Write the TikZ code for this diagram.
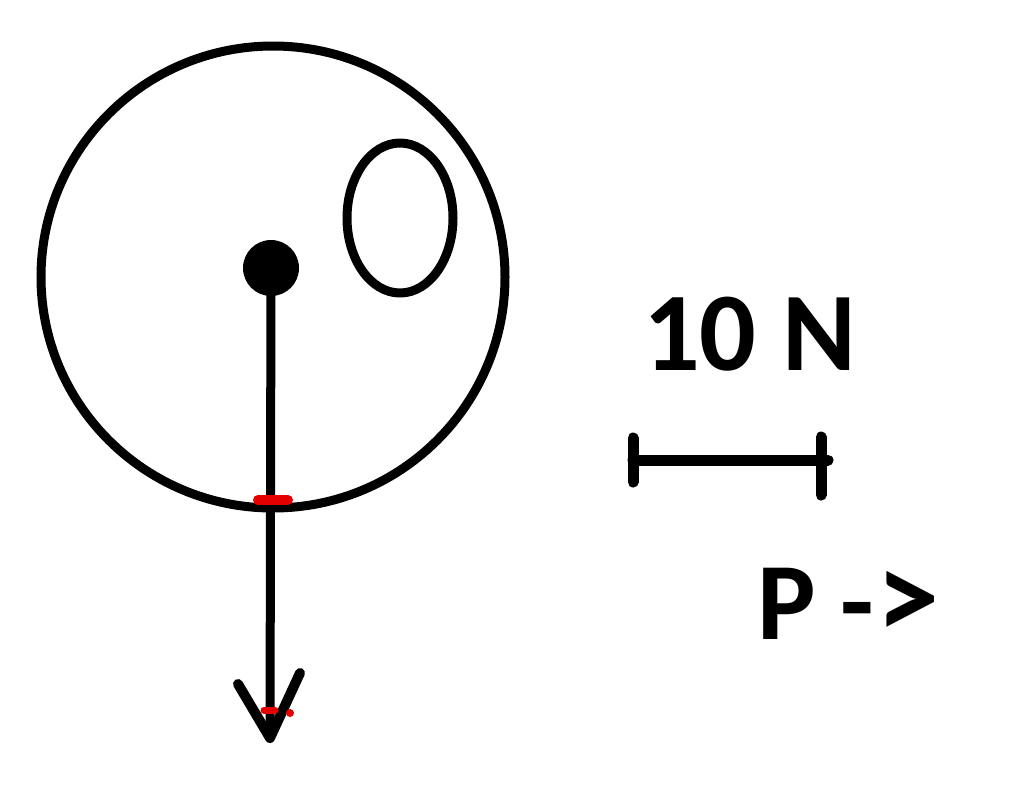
\documentclass[tikz,border=0pt]{standalone}
\usepackage{fontspec}
\setmainfont{Carlito}
\begin{document}
\begin{tikzpicture}[x=1pt,y=-1pt,
  stroke/.style={line width=9pt,black,line cap=round,line join=round},
  redmark/.style={line width=10pt,red!90!black,line cap=round},
  lbl/.style={font=\bfseries\fontsize{112}{112}\selectfont,inner sep=0pt,anchor=base west}]
\useasboundingbox[fill=white] (0,0) rectangle (1024,785);
% big circle
\draw[stroke] (273,277) ellipse [x radius=232, y radius=231];
% small ellipse
\draw[stroke] (400,218) ellipse [x radius=53, y radius=75];
% centre dot
\fill (271,268) circle [radius=28];
\coordinate (c) at (271,268);
\coordinate (tip) at (270,738);
\coordinate (hl) at (238,684);
\coordinate (hr) at (300,673);
\draw[stroke] (c) -- (tip);
\draw[stroke,line width=10pt] (hl) -- (tip) -- (hr);
% red marks
\draw[redmark] (258,500) -- (288,500);
\draw[redmark,line width=7pt] (264,710) -- (275,710);
\fill[red!90!black] (290,713) circle [radius=4];
% scale bar
\coordinate (sl) at (633,460);
\coordinate (sr) at (828,460);
\draw[stroke,line width=11pt] (sl) -- (sr);
\draw[stroke,line width=11pt] (633,438) -- (633,482);
\draw[stroke,line width=11pt] (821,437) -- (821,495);
% labels
\node[lbl] (ten) at (643,370) {10 N};
\node[lbl,font=\bfseries\fontsize{110}{110}\selectfont] (p) at (757,639) {P -\kern2pt\scalebox{1.15}{>}};
\end{tikzpicture}
\end{document}
